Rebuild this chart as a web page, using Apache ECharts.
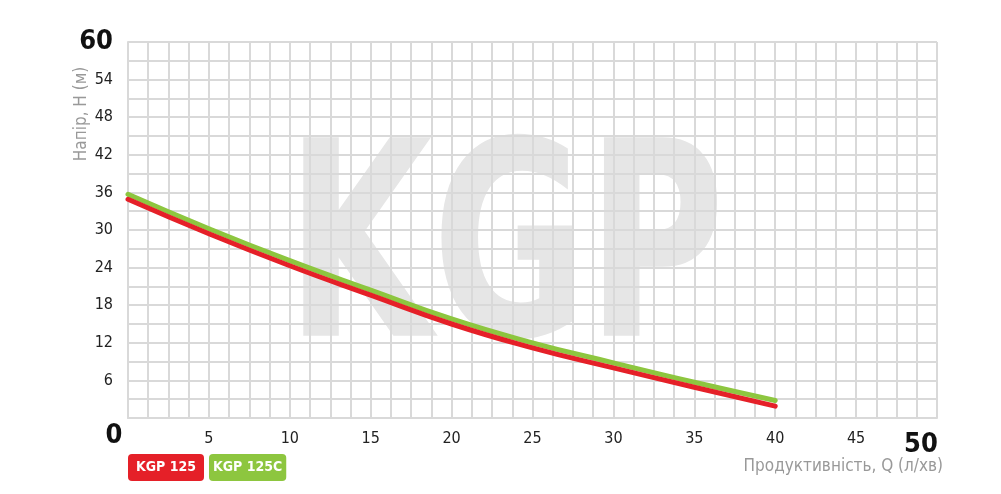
<!DOCTYPE html>
<html>
<head>
<meta charset="utf-8">
<script src="https://cdn.jsdelivr.net/npm/echarts@6/dist/echarts.min.js"></script>
<style>
  html, body { margin: 0; padding: 0; background: #fff; }
  #chart { width: 1001px; height: 494px; }
</style>
</head>
<body>
<div id="chart"></div>
<script>
// дані кривих (Q, л/хв -> H, м)
const flow = [0, 5, 10, 15, 20, 25, 30, 35, 40];
const kgp125 = [34.9, 29.4, 24.3, 19.6, 15.0, 11.2, 8.0, 4.9, 1.9];
const kgp125c = [35.7, 30.2, 25.1, 20.4, 15.8, 12.0, 8.8, 5.7, 2.8];
const seriesNames = ['KGP 125', 'KGP 125C'];
const seriesColors = ['#e52028', '#8dc63f'];
const legendPads = [[7, 8, 6, 8], [7, 4, 6, 4]];

const font = '"Liberation Sans Narrow", "DejaVu Sans Condensed", sans-serif';
const gridColor = '#d9d9d9';

let myChart = echarts.init(document.getElementById('chart'));

myChart.setOption({
  animation: false,
  textStyle: { fontFamily: font },
  grid: { left: 128, right: 64, top: 42, bottom: 76, outerBoundsMode: 'none', containLabel: false },
  legend: {
    left: 118,
    top: 449,
    itemWidth: 0,
    itemHeight: 0,
    itemGap: 0,
    icon: 'none',
    selectedMode: false,
    data: seriesNames.map((n, i) => ({
      name: n,
      textStyle: {
        color: '#fff',
        fontSize: 14,
        fontWeight: 'bold',
        fontFamily: font,
        backgroundColor: seriesColors[i],
        borderRadius: 4,
        padding: legendPads[i]
      }
    }))
  },
  graphic: [{
    type: 'text',
    z: -10,
    left: 286,
    top: 129,
    scaleX: 0.77,
    style: {
      text: 'KGP',
      fontSize: 272,
      fontWeight: 'bold',
      fontFamily: font,
      fill: '#e6e6e6'
    }
  }],
  xAxis: {
    type: 'value',
    min: 0,
    max: 50,
    interval: 1.25,
    name: 'Продуктивність, Q (л/хв)',
    nameLocation: 'end',
    nameGap: 0,
    nameMoveOverlap: false,
    nameTextStyle: {
      color: '#999',
      fontSize: 17,
      align: 'right',
      verticalAlign: 'top',
      padding: [40, -6, 0, 0]
    },
    axisLine: { lineStyle: { color: gridColor, width: 2 } },
    axisTick: { show: false },
    splitLine: { lineStyle: { color: gridColor, width: 2 } },
    axisLabel: {
      margin: 13,
      color: '#222',
      fontSize: 16,
      showMinLabel: true,
      showMaxLabel: true,
      formatter: v => {
        if (v === 0) return '{big0|0}';
        if (v === 50) return '{big50|50}';
        return v % 5 === 0 ? String(v) : '';
      },
      rich: {
        big0: { fontSize: 27, fontWeight: 'bold', color: '#111', padding: [-9, 28, 0, 0] },
        big50: { fontSize: 27, fontWeight: 'bold', color: '#111', padding: [0, 32, 0, 0] }
      }
    }
  },
  yAxis: {
    type: 'value',
    min: 0,
    max: 60,
    interval: 3,
    name: 'Напір, H (м)',
    nameLocation: 'middle',
    nameGap: 38,
    nameMoveOverlap: false,
    nameRotate: 90,
    nameTextStyle: { color: '#999', fontSize: 17, padding: [0, 0, 0, 232] },
    axisLine: { show: true, lineStyle: { color: gridColor, width: 2 } },
    axisTick: { show: false },
    splitLine: { lineStyle: { color: gridColor, width: 2 } },
    axisLabel: {
      margin: 15,
      color: '#222',
      fontSize: 16,
      formatter: v => {
        if (v === 0) return '';
        if (v === 60) return '{big|60}';
        return v % 6 === 0 ? String(v) : '';
      },
      rich: {
        big: { fontSize: 27, fontWeight: 'bold', color: '#111' }
      }
    }
  },
  series: seriesNames.map((n, i) => ({
    name: n,
    type: 'line',
    smooth: true,
    symbol: 'none',
    z: i === 0 ? 3 : 2,
    lineStyle: { color: seriesColors[i], width: 5, cap: 'round' },
    itemStyle: { color: seriesColors[i] },
    data: flow.map((q, j) => [q, (i === 0 ? kgp125 : kgp125c)[j]])
  }))
});
</script>
</body>
</html>
